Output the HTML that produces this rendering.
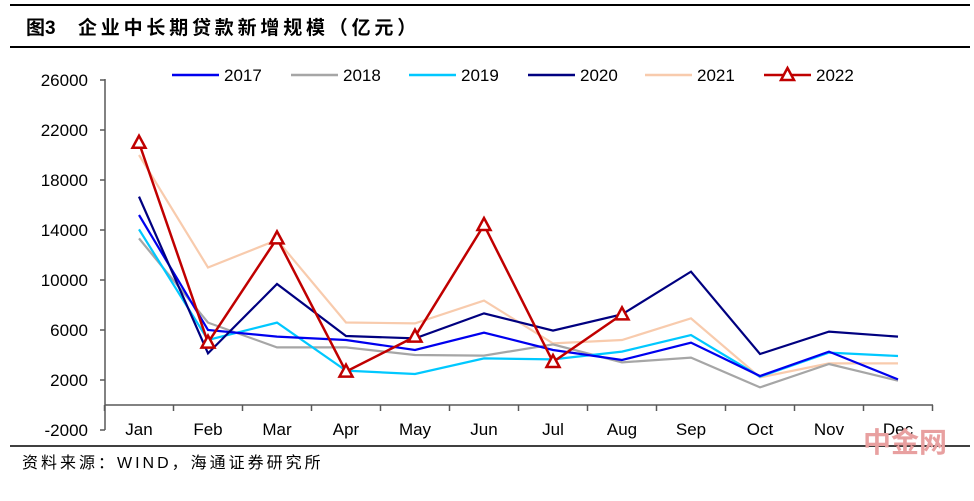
<!DOCTYPE html>
<html><head><meta charset="utf-8"><style>
body{margin:0;background:#fff;width:974px;height:496px;overflow:hidden;font-family:"Liberation Sans","Noto Sans CJK SC",sans-serif;}
</style></head><body>
<svg width="974" height="496" xmlns="http://www.w3.org/2000/svg">
<line x1="10" y1="5" x2="970" y2="5" stroke="#000" stroke-width="2"/>
<text x="26" y="34" font-size="19" font-weight="bold" font-family="Liberation Sans,Noto Sans CJK SC,sans-serif"><tspan>图3</tspan><tspan x="78" letter-spacing="3.8">企业中长期贷款新增规模（亿元）</tspan></text>
<line x1="10" y1="47" x2="970" y2="47" stroke="#000" stroke-width="2"/>
<g id="axes"></g>
<g id="series"></g>
<g id="legend"></g>
<line x1="10" y1="446" x2="970" y2="446" stroke="#000" stroke-width="1.5"/>
<text x="22" y="468" font-size="16" letter-spacing="3" font-family="Liberation Sans,Noto Sans CJK SC,sans-serif">资料来源：WIND，海通证券研究所</text>
<text x="905" y="452" font-size="28" font-weight="bold" fill="#e8a0a0" text-anchor="middle" font-family="Liberation Sans,Noto Sans CJK SC,sans-serif">中金网</text>
</svg>
<script>
const categories=["Jan","Feb","Mar","Apr","May","Jun","Jul","Aug","Sep","Oct","Nov","Dec"];
const yTicks=[26000,22000,18000,14000,10000,6000,2000,-2000];
const years=["2017","2018","2019","2020","2021","2022"];
const colors=["#0000ee","#a6a6a6","#00c8ff","#000080","#f8cbad","#c00000"];
const s2017=[15200,6000,5470,5200,4400,5790,4400,3600,4990,2320,4270,2050];
const s2018=[13330,6590,4610,4610,4000,3950,4850,3410,3790,1410,3280,1950];
const s2019=[14050,5200,6590,2750,2480,3730,3650,4270,5600,2270,4190,3920];
const s2020=[16670,4130,9680,5520,5330,7330,5950,7250,10670,4080,5870,5470];
const s2021=[20000,11000,13200,6600,6530,8350,4930,5200,6930,2210,3330,3330];
const s2022=[20980,4990,13330,2670,5470,14400,3440,7250];
const seriesList=[s2017,s2018,s2019,s2020,s2021,s2022];
const NS="http://www.w3.org/2000/svg";
const xS=i=>139+i*69;
const yS=v=>405-v*0.0125;
function mk(t,a,p){const e=document.createElementNS(NS,t);for(const k in a)e.setAttribute(k,a[k]);p.appendChild(e);return e;}
const ax=document.getElementById('axes');
let yl=mk('line',{x1:105,y1:79,x2:105,y2:430,stroke:'#595959','stroke-width':1.5},ax);


yTicks.forEach(v=>{
 let t=mk('line',{x1:100,y1:yS(v),x2:105,y2:yS(v),stroke:'#595959','stroke-width':1.5},ax);
 
 
 let l=mk('text',{x:88,y:yS(v)+6,'font-size':17,'text-anchor':'end'},ax);l.textContent=v;
 
 
});
let xl=mk('line',{x1:105,y1:yS(0),x2:933,y2:yS(0),stroke:'#595959','stroke-width':1.5},ax);


for(let i=0;i<=categories.length;i++){
 let t=mk('line',{x1:xS(i)-34.5,y1:yS(0),x2:xS(i)-34.5,y2:yS(0)+6,stroke:'#595959','stroke-width':1.5},ax);
 
 
}
categories.forEach((c,i)=>{
 let l=mk('text',{x:xS(i),y:435,'font-size':17,'text-anchor':'middle'},ax);l.textContent=c;
 
 
});
const sg=document.getElementById('series');
const order=[4,1,2,0,3,5];
order.forEach(k=>{
 const d=seriesList[k];
 let p=mk('polyline',{points:d.map((v,i)=>xS(i)+','+yS(v)).join(' '),fill:'none',stroke:colors[k],'stroke-width':k==5?2.5:2.2},sg);
 
 
 if(k==5){d.forEach((v,i)=>{
  const x=xS(i),y=yS(v);
  let m=mk('polygon',{points:`${x},${y-7} ${x-6.5},${y+5} ${x+6.5},${y+5}`,fill:'#fff',stroke:colors[k],'stroke-width':2.5},sg);
  
  
 });}
});
const lg=document.getElementById('legend');
const lx=[172,291,409,528,645,764];
years.forEach((y,k)=>{
 let g=mk('g',{},lg);
 
 
 mk('line',{x1:lx[k],y1:75,x2:lx[k]+47,y2:75,stroke:colors[k],'stroke-width':2.5},g);
 if(k==5)mk('polygon',{points:`${lx[k]+23.5},68 ${lx[k]+17},80 ${lx[k]+30},80`,fill:'#fff',stroke:colors[k],'stroke-width':2.5},g);
 let t=mk('text',{x:lx[k]+52,y:81,'font-size':17},g);t.textContent=y;
});
</script>
</body></html>
